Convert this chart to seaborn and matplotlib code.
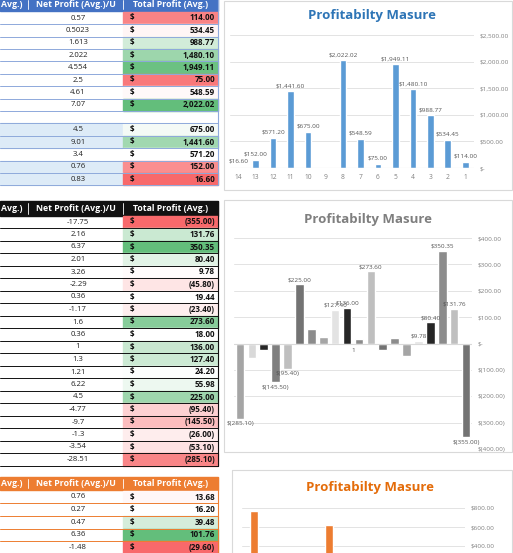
import numpy as np
import pandas as pd
import matplotlib
matplotlib.use("Agg")
import matplotlib.pyplot as plt
import seaborn as sns
from matplotlib.patches import Rectangle
from matplotlib.colors import to_rgb

sns.set_theme(style="white")
plt.rcParams['font.family'] = ['Open Sans', 'DejaVu Sans']

# ---------------- data ----------------
top_net = [0.57, 0.5023, 1.613, 2.022, 4.554, 2.5, 4.61, 7.07, None, 4.5, 9.01, 3.4, 0.76, 0.83]
top_total = [114.00, 534.45, 988.77, 1480.10, 1949.11, 75.00, 548.59, 2022.02, None, 675.00, 1441.60, 571.20, 152.00, 16.60]
top_cats = ["1", "2", "3", "4", "5", "6", "7", "8", "9", "10", "11", "12", "13", "14"]

mid_net = [-17.75, 2.16, 6.37, 2.01, 3.26, -2.29, 0.36, -1.17, 1.6, 0.36, 1, 1.3, 1.21, 6.22, 4.5, -4.77, -9.7, -1.3, -3.54, -28.51]
mid_total = [-355.00, 131.76, 350.35, 80.40, 9.78, -45.80, 19.44, -23.40, 273.60, 18.00, 136.00, 127.40, 24.20, 55.98, 225.00, -95.40, -145.50, -26.00, -53.10, -285.10]
mid_cats = [str(i) for i in range(1, 21)]

bot_net = [0.76, 0.27, 0.47, 6.36, -1.48]
bot_total = [13.68, 16.20, 39.48, 101.76, -29.60]
bot_chart_cats = ["a", "b", "c", "d", "e", "f", "g", "h", "i"]
bot_chart_vals = [770, 100, 50, 620, 150, 30, 40, 16, 14]

W, H = 513, 553
fig = plt.figure(figsize=(W / 100, H / 100), dpi=100)
bg = fig.add_axes([0, 0, 1, 1])
bg.set_xlim(0, W); bg.set_ylim(H, 0); bg.axis("off")


def acct(v):
    s = f"{abs(v):,.2f}"
    return f"({s})" if v < 0 else s


def scale_color(v, vals):
    vals = [x for x in vals if x is not None]
    lo, mid, hi = min(vals), np.percentile(vals, 50), max(vals)
    red, white, green = np.array(to_rgb("#F8696B")), np.array([1, 1, 1]), np.array(to_rgb("#63BE7B"))
    if v <= mid:
        t = (v - lo) / (mid - lo) if mid > lo else 1
        return tuple(red + (white - red) * t)
    t = (v - mid) / (hi - mid) if hi > mid else 0
    return tuple(white + (green - white) * t)


def draw_table(hy0, hy1, row_y0, step, nets, tots, head_col, line_col, blue_rows=()):
    bg.add_patch(Rectangle((0, hy0), 218, hy1 - hy0, color=head_col, zorder=1))
    hc = (hy0 + hy1) / 2
    bg.text(12, hc, "Avg.)", color="white", fontsize=6.3, weight="bold", ha="center", va="center")
    bg.text(76, hc, "Net Profit (Avg.)/U", color="white", fontsize=6.3, weight="bold", ha="center", va="center")
    bg.text(171, hc, "Total Profit (Avg.)", color="white", fontsize=6.3, weight="bold", ha="center", va="center")
    for xv in (28, 123):
        bg.plot([xv, xv], [hy0 + 2, hy1 - 2], color="white", lw=0.6, zorder=2)
    for i, (n, t) in enumerate(zip(nets, tots)):
        yc = row_y0 + i * step
        y0 = yc - step / 2
        if i in blue_rows:
            bg.add_patch(Rectangle((0, y0), 123, step, color="#DDEBF7", zorder=1))
        if t is not None:
            bg.add_patch(Rectangle((123, y0), 95, step, color=scale_color(t, tots), zorder=1))
            bg.text(78, yc, f"{n:g}", fontsize=5.6, ha="center", va="center", color="#222")
            bg.text(130, yc, "$", fontsize=5.8, weight="bold", ha="left", va="center", color="#111")
            bg.text(215, yc, acct(t), fontsize=5.8, weight="bold", ha="right", va="center", color="#111")
        bg.plot([0, 218], [y0 + step, y0 + step], color=line_col, lw=0.7, zorder=2)
    bg.plot([218, 218], [hy0, row_y0 + (len(nets) - 0.5) * step], color=line_col, lw=0.8, zorder=2)


draw_table(-2, 11, 18, 12.4, top_net, top_total, "#4472C4", "#8EA9DB", blue_rows=(9, 10, 12, 13))
draw_table(201, 216, 222, 12.5, mid_net, mid_total, "#111111", "#111111")
draw_table(477, 490, 497, 12.6, bot_net, bot_total, "#ED7D31", "#ED7D31")

# panels
for (x0, y0, x1, y1) in [(224, 1, 512, 190), (224, 200, 512, 452), (232, 470, 512, 560)]:
    bg.add_patch(Rectangle((x0, y0), x1 - x0, y1 - y0, fill=False, ec="#D9D9D9", lw=0.8))


def fax(x0, y0, x1, y1):
    return fig.add_axes([x0 / W, 1 - y1 / H, (x1 - x0) / W, (y1 - y0) / H])


def money_tick(v):
    if v == 0:
        return "$-"
    s = f"{abs(v):,.2f}"
    return f"$({s})" if v < 0 else f"${s}"


def style(ax, ymin, ymax, step):
    ax.set_ylim(ymin, ymax)
    ticks = np.arange(ymin, ymax + 1, step)
    ax.set_yticks(ticks)
    ax.yaxis.tick_right()
    ax.set_yticklabels([money_tick(t) for t in ticks], fontsize=4.6, color="#808080")
    ax.grid(axis="y", color="#E3E3E3", lw=0.7)
    ax.set_axisbelow(True)
    for s in ax.spines.values():
        s.set_visible(False)
    ax.tick_params(length=0, pad=4)
    ax.set_xlabel(""); ax.set_ylabel("")
    ax.patch.set_alpha(0)


# top chart
ax1 = fax(229.5, 35, 474, 168)
order1 = top_cats[::-1]
df1 = pd.DataFrame({"cat": top_cats, "val": top_total})
sns.barplot(data=df1, x="cat", y="val", order=order1, color="#5B9BD5", width=0.38, ax=ax1, saturation=1)
style(ax1, 0, 2500, 500)
ax1.set_xticks(range(14)); ax1.set_xticklabels(order1, fontsize=4.8, color="#808080")
ax1.axhline(0, color="#D9D9D9", lw=0.8)
for i, c in enumerate(order1):
    v = top_total[top_cats.index(c)]
    if v is not None:
        ax1.text(i, v + 60, f"${v:,.2f}", ha="center", va="bottom", fontsize=4.6, color="#555")
bg.text(372, 16, "Profitabilty Masure", color="#2E75B6", fontsize=9.5, weight="bold", ha="center", va="center")

# middle chart
ax2 = fax(234, 238, 472, 449)
order2 = mid_cats[::-1]
grays = ["#A5A5A5", "#D9D9D9", "#262626", "#7F7F7F", "#BFBFBF", "#737373", "#8C8C8C", "#A5A5A5", "#E3E3E3", "#262626",
         "#8C8C8C", "#BFBFBF", "#737373", "#8C8C8C", "#A5A5A5", "#E3E3E3", "#262626", "#8C8C8C", "#BFBFBF", "#737373"]
df2 = pd.DataFrame({"cat": mid_cats, "val": mid_total})
sns.barplot(data=df2, x="cat", y="val", order=order2, hue="cat", hue_order=order2, palette=grays,
            legend=False, width=0.72, ax=ax2, saturation=1)
style(ax2, -400, 400, 100)
ax2.set_xticks([])
ax2.axhline(0, color="#D9D9D9", lw=0.8)
labeled = {-285.10, -145.50, -95.40, 225.00, 127.40, 136.00, 273.60, 9.78, 80.40, 350.35, 131.76, -355.00}
for i, c in enumerate(order2):
    v = mid_total[mid_cats.index(c)]
    if v in labeled:
        ax2.text(i, v + (8 if v > 0 else -10), money_tick(v), ha="center", va="bottom" if v > 0 else "top",
                 fontsize=4.6, color="#555")
ax2.text(9.5, -25, "1", ha="center", va="center", fontsize=4.6, color="#555")
bg.text(368, 220, "Profitabilty Masure", color="#7F7F7F", fontsize=9.5, weight="bold", ha="center", va="center")

# bottom chart
ax3 = fax(242, 508, 465, 584)
df3 = pd.DataFrame({"cat": bot_chart_cats, "val": bot_chart_vals})
sns.barplot(data=df3, x="cat", y="val", color="#ED7D31", width=0.32, ax=ax3, saturation=1)
style(ax3, 0, 800, 200)
ax3.set_xticks([])
bg.text(370, 488, "Profitabilty Masure", color="#E46C0A", fontsize=9.5, weight="bold", ha="center", va="center")

fig.savefig("out.png", dpi=100)
